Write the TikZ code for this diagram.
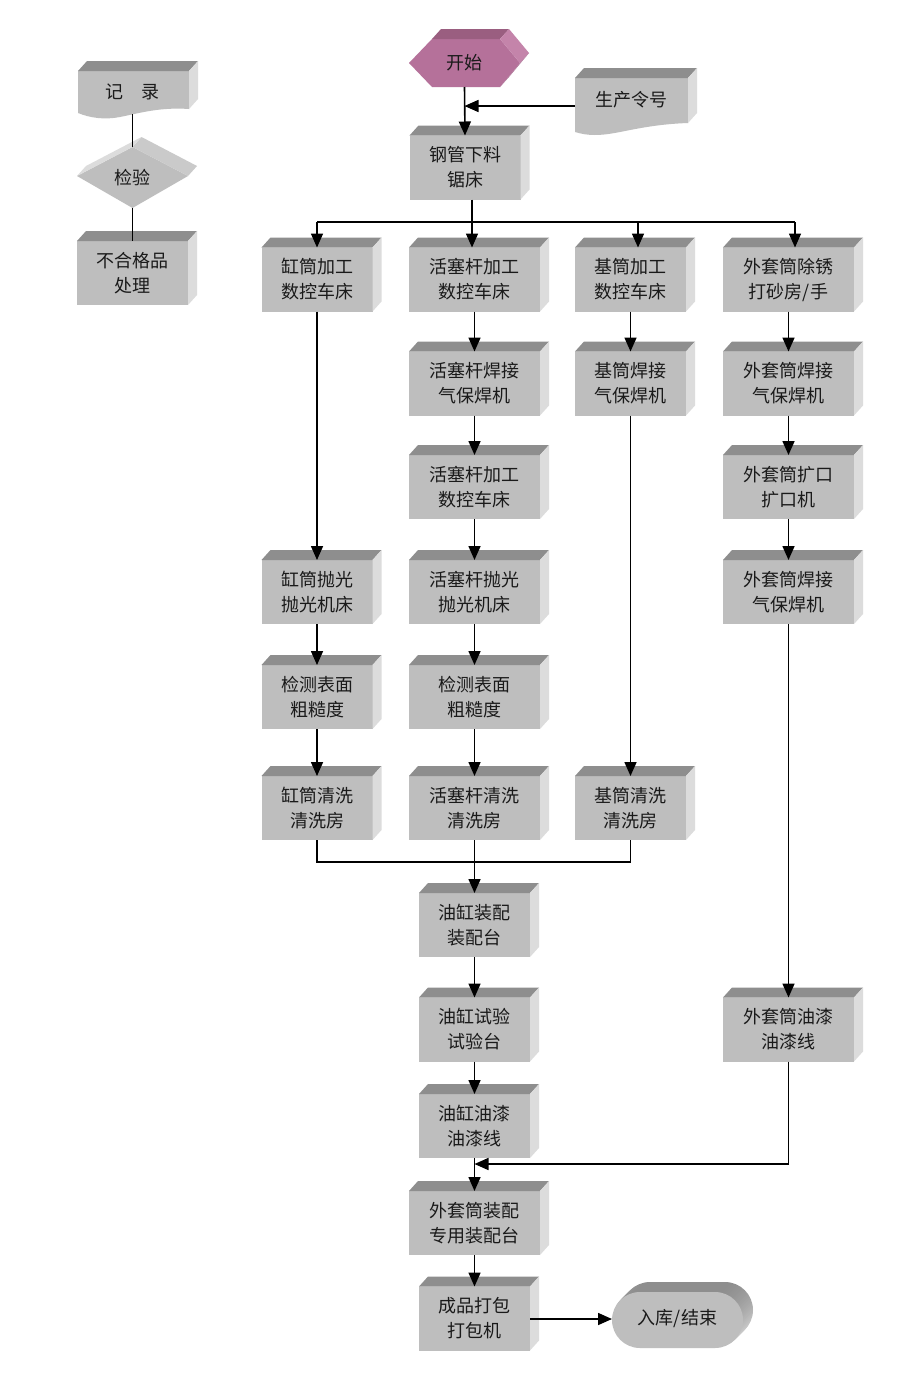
\documentclass[tikz,border=0pt]{standalone}
\usepackage{fontspec}
\newfontfamily\cjk{Noto Sans CJK SC}
\usetikzlibrary{arrows.meta}
\definecolor{frontc}{HTML}{BEBEBE}
\definecolor{topc}{HTML}{8E8E8E}
\definecolor{sidec}{HTML}{DCDCDC}
\definecolor{pfront}{HTML}{B5719A}
\definecolor{ptop}{HTML}{9A5E80}
\definecolor{pside}{HTML}{C484AA}
\definecolor{txtc}{HTML}{1A1A1A}
\tikzset{
  txt/.style={inner sep=0pt, outer sep=0pt, align=center, text=txtc, font=\cjk\fontsize{18}{25}\selectfont},
  bx/.style={txt, rectangle, fill=frontc, minimum width=111pt, minimum height=64pt},
  wbx/.style={bx, minimum width=131pt},
  ln/.style={line width=1.6pt, black},
  arr/.style={ln, -{Triangle[width=12pt,length=14pt]}},
}
\newcommand\mkfaces[1]{%
  \fill[topc] (#1.north west) -- ([shift={(9,-10)}]#1.north west) -- ([shift={(9,-10)}]#1.north east) -- (#1.north east) -- cycle;
  \fill[sidec] (#1.north east) -- ([shift={(9,-10)}]#1.north east) -- ([shift={(9,-10)}]#1.south east) -- (#1.south east) -- cycle;
}
\begin{document}
\begin{tikzpicture}[x=1pt,y=-1pt]
\fill[white] (0,0) rectangle (913,1384);
\useasboundingbox (0,0) rectangle (913,1384);

% ---------- left legend column ----------
\fill[frontc] (78,71) -- (189,71) -- (189,109) .. controls (160,107) and (140,113) .. (120,117) .. controls (105,120) and (90,118) .. (78,113) -- cycle;
\fill[topc] (78,71) -- (87,61) -- (198,61) -- (189,71) -- cycle;
\fill[sidec] (189,71) -- (198,61) -- (198,99) -- (189,109) -- cycle;
\node[txt, minimum width=111pt, minimum height=44pt] (rec) at (132.5,92) {记　录};

\fill[frontc] (132.5,147) -- (188,176) -- (132.5,208) -- (77,176) -- cycle;
\fill[sidec!92!black] (132.5,147) -- (141.5,137) -- (197,166) -- (188,176) -- cycle;
\fill[sidec] (77,176) -- (86,166) -- (141.5,137) -- (132.5,147) -- cycle;
\node[txt, minimum width=111pt, minimum height=61pt] (chk) at (132.5,177.5) {检验};

\node[bx] (bad) at (132.5,273) {不合格品\\处理};
\mkfaces{bad}

% ---------- start / order ----------
\fill[pfront] (409,63) -- (432,39) -- (500,39) -- (520,63) -- (500,87) -- (432,87) -- cycle;
\fill[ptop] (432,39) -- (441,29) -- (509,29) -- (500,39) -- cycle;
\fill[pside] (500,39) -- (509,29) -- (529,53) -- (520,63) -- cycle;
\fill[pside!88!black] (520,63) -- (529,53) -- (509,77) -- (500,87) -- cycle;
\node[txt, minimum width=111pt, minimum height=48pt] (start) at (464.5,63) {开始};

\fill[frontc] (575,78) -- (688,78) -- (688,123) .. controls (660,124) and (640,128) .. (620,132) .. controls (600,136) and (588,136) .. (575,132) -- cycle;
\fill[topc] (575,78) -- (584,68) -- (697,68) -- (688,78) -- cycle;
\fill[sidec] (688,78) -- (697,68) -- (697,113) -- (688,123) -- cycle;
\node[txt, minimum width=113pt, minimum height=44pt] (ling) at (631.5,100) {生产令号};

% ---------- process boxes ----------
\node[bx]  (gang) at (465,167.5) {钢管下料\\锯床};
\node[bx]  (c1) at (317,279.5)   {缸筒加工\\数控车床};
\node[wbx] (p1) at (474.5,279.5) {活塞杆加工\\数控车床};
\node[bx]  (j1) at (630.5,279.5) {基筒加工\\数控车床};
\node[wbx] (w1) at (788.5,279.5) {外套筒除锈\\打砂房/手};
\node[wbx] (p2) at (474.5,383.5) {活塞杆焊接\\气保焊机};
\node[bx]  (j2) at (630.5,383.5) {基筒焊接\\气保焊机};
\node[wbx] (w2) at (788.5,383.5) {外套筒焊接\\气保焊机};
\node[wbx] (p3) at (474.5,487)   {活塞杆加工\\数控车床};
\node[wbx] (w3) at (788.5,487)   {外套筒扩口\\扩口机};
\node[bx]  (c4) at (317,592)     {缸筒抛光\\抛光机床};
\node[wbx] (p4) at (474.5,592)   {活塞杆抛光\\抛光机床};
\node[wbx] (w4) at (788.5,592)   {外套筒焊接\\气保焊机};
\node[bx]  (c5) at (317,697)     {检测表面\\粗糙度};
\node[wbx] (p5) at (474.5,697)   {检测表面\\粗糙度};
\node[bx]  (c6) at (317,808)     {缸筒清洗\\清洗房};
\node[wbx] (p6) at (474.5,808)   {活塞杆清洗\\清洗房};
\node[bx]  (j6) at (630.5,808)   {基筒清洗\\清洗房};
\node[bx]  (y1) at (474.5,925)   {油缸装配\\装配台};
\node[bx]  (y2) at (474.5,1029.5){油缸试验\\试验台};
\node[wbx] (w7) at (788.5,1029.5){外套筒油漆\\油漆线};
\node[bx]  (y3) at (474.5,1126)  {油缸油漆\\油漆线};
\node[wbx] (wa) at (474.5,1223)  {外套筒装配\\专用装配台};
\node[bx]  (pk) at (474.5,1318.5){成品打包\\打包机};
\foreach \n in {gang,c1,p1,j1,w1,p2,j2,w2,p3,w3,c4,p4,w4,c5,p5,c6,p6,j6,y1,y2,w7,y3,wa,pk}{\mkfaces{\n}}

% ---------- terminal ----------
\foreach \s in {10,9,...,1}{
  \shade[shift={(\s,-\s)}, top color=topc, bottom color=sidec, rounded corners=28pt] (612,1292) rectangle (743,1348);
}
\fill[frontc, rounded corners=28pt] (612,1292) rectangle (743,1348);
\node[txt, minimum width=131pt, minimum height=56pt] (end) at (677.5,1319) {入库/结束};

% ---------- connectors ----------
\draw[ln] (rec.south) -- (chk.north);
\draw[ln] (chk.south) -- (bad.north);

\draw[arr] (start.south) -- (gang.north);
\coordinate (ly) at (0,106);
\draw[arr] (ling.west |- ly) -- (start.south |- ly);

\coordinate (bus) at (472,222);
\coordinate (busr) at (795,222);
\coordinate (bj) at (638,222);
\draw[ln] (bus |- gang.south) -- (bus);
\draw[ln] (bus -| c1.north) -- (busr);
\draw[arr] (bus -| c1.north) -- (c1.north);
\draw[arr] (bus) -- (bus |- p1.north);
\draw[arr] (bj) -- (bj |- j1.north);
\draw[arr] (busr) -- (busr |- w1.north);

\draw[arr] (c1.south) -- (c4.north);
\draw[arr] (c4.south) -- (c5.north);
\draw[arr] (c5.south) -- (c6.north);
\draw[arr] (p1.south) -- (p2.north);
\draw[arr] (p2.south) -- (p3.north);
\draw[arr] (p3.south) -- (p4.north);
\draw[arr] (p4.south) -- (p5.north);
\draw[arr] (p5.south) -- (p6.north);
\draw[arr] (j1.south) -- (j2.north);
\draw[arr] (j2.south) -- (j6.north);
\draw[arr] (w1.south) -- (w2.north);
\draw[arr] (w2.south) -- (w3.north);
\draw[arr] (w3.south) -- (w4.north);
\draw[arr] (w4.south) -- (w7.north);

\coordinate (mg) at (0,862);
\draw[ln] (c6.south) |- (j6.south |- mg) -- (j6.south);
\draw[arr] (p6.south) -- (y1.north);
\draw[arr] (y1.south) -- (y2.north);
\draw[arr] (y2.south) -- (y3.north);
\draw[arr] (y3.south) -- (wa.north);
\coordinate (m2) at (0,1164);
\draw[arr] (w7.south) |- (y3.south |- m2);
\draw[arr] (wa.south) -- (pk.north);
\draw[arr] (pk.east |- end.west) -- (end.west);
\end{tikzpicture}
\end{document}
